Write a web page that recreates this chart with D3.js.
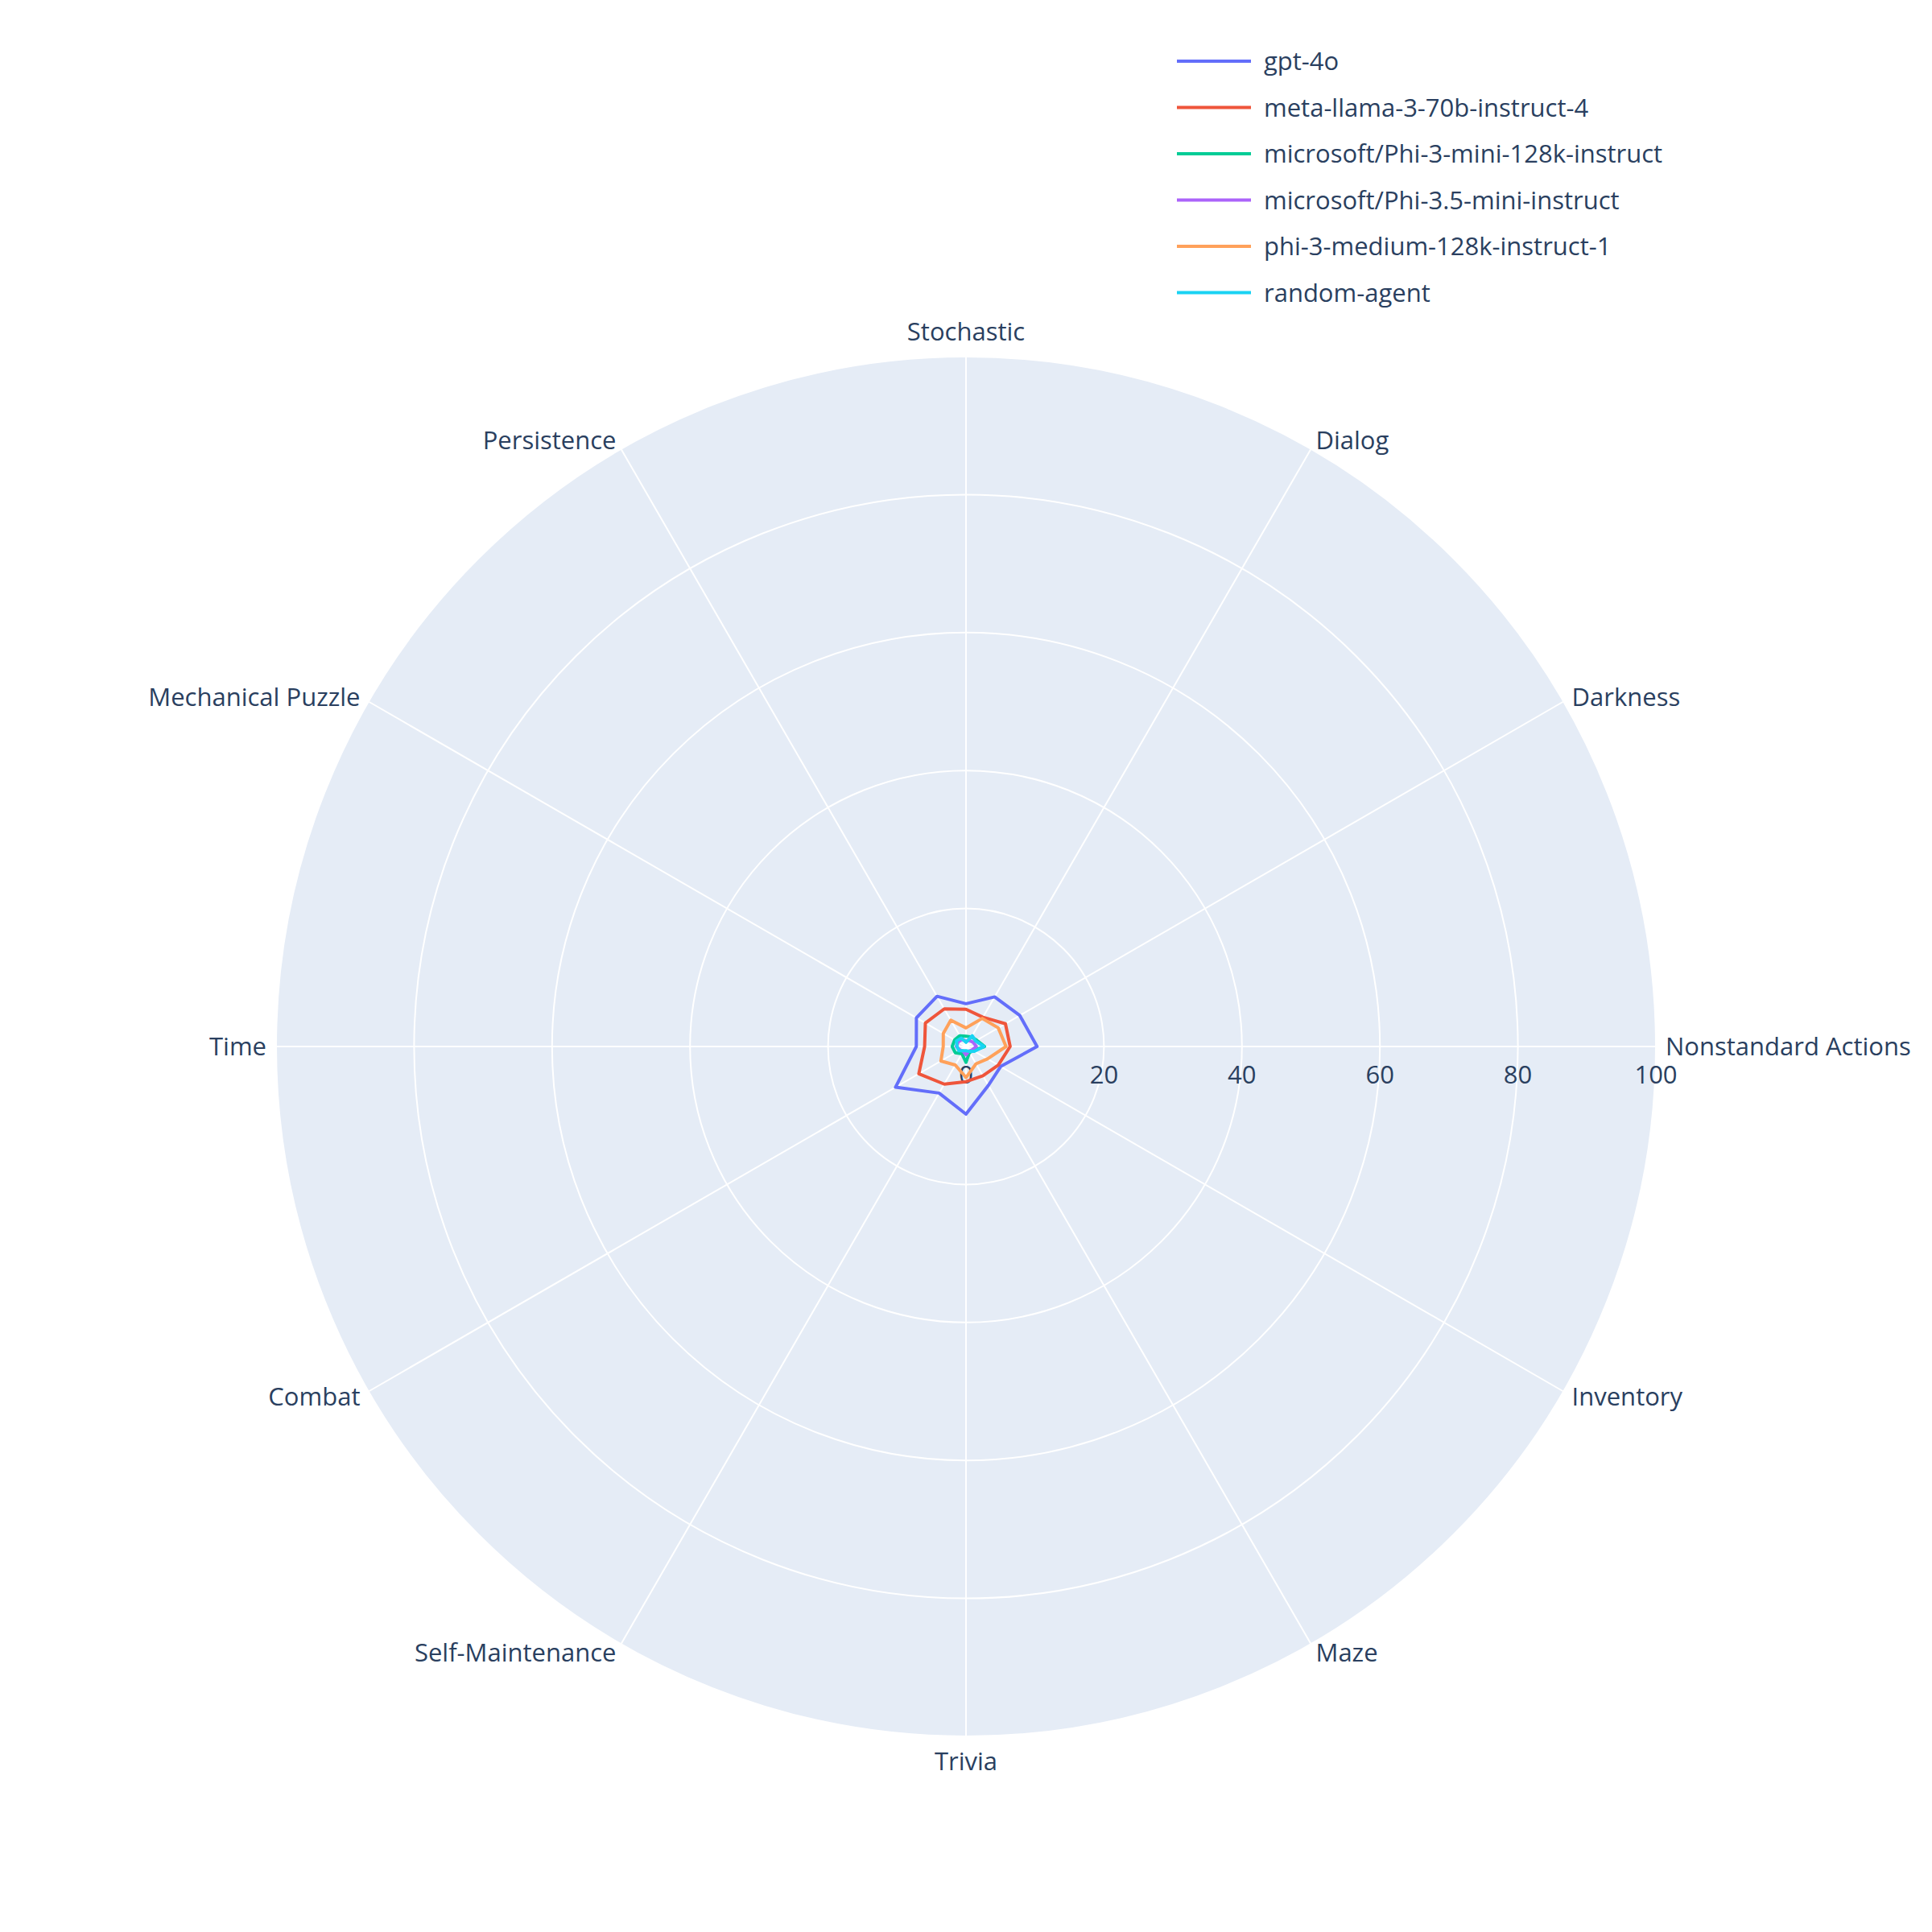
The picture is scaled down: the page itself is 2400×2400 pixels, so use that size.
<!DOCTYPE html><html><head><meta charset="utf-8"><script src="https://cdn.jsdelivr.net/npm/d3@7"></script>
<style>body{margin:0;background:#fff}text{font-family:"Open Sans",sans-serif;fill:#2a3f5f}</style></head><body>
<svg id="c" width="2400" height="2400"></svg>
<script>
const categories=["Nonstandard Actions","Darkness","Dialog","Stochastic","Persistence","Mechanical Puzzle","Time","Combat","Self-Maintenance","Trivia","Maze","Inventory"];
const seriesNames=["gpt-4o","meta-llama-3-70b-instruct-4","microsoft/Phi-3-mini-128k-instruct","microsoft/Phi-3.5-mini-instruct","phi-3-medium-128k-instruct-1","random-agent"];
const colors=["#636efa","#EF553B","#00cc96","#ab63fa","#FFA15A","#19d3f3"];
const gpt4o=[10.3,9.0,8.3,6.2,8.4,8.3,7.2,11.8,7.8,9.8,6.5,5.8];
const llama=[6.4,6.6,4.9,5.4,6.3,6.8,6.0,7.9,6.3,5.1,4.9,5.4];
const phi3mini=[2.7,1.8,1.6,1.5,1.8,1.9,2.0,1.8,1.2,2.3,1.0,1.2];
const phi35mini=[1.5,1.2,1.0,0.8,1.2,1.3,1.4,1.0,0.8,1.2,0.8,1.0];
const phi3medium=[5.8,5.4,4.7,2.7,4.4,3.8,3.3,4.2,3.1,4.5,2.9,3.6];
const randomAgent=[2.6,1.6,1.8,0.6,1.4,1.6,1.3,1.2,0.7,0.6,0.8,1.4];
const data=[gpt4o,llama,phi3mini,phi35mini,phi3medium,randomAgent];
const radialTicks=[0,20,40,60,80,100];
const cx=1200,cy=1300,R=857;
const svg=d3.select("#c");
const r=d3.scaleLinear().domain([0,100]).range([0,R]);
const ang=i=>-i*2*Math.PI/categories.length;
const g=svg.append("g").attr("transform",`translate(${cx},${cy})`);
g.append("circle").attr("r",R).attr("fill","#e5ecf6");
radialTicks.slice(1).forEach(t=>g.append("circle").attr("r",r(t)).attr("fill","none").attr("stroke","#fff").attr("stroke-width",2));
categories.forEach((c,i)=>{const a=ang(i);
 g.append("line").attr("x2",R*Math.cos(a)).attr("y2",R*Math.sin(a)).attr("stroke","#fff").attr("stroke-width",2);
 const lx=(R+12)*Math.cos(a),ly=(R+12)*Math.sin(a);
 const ca=Math.cos(a),sa=Math.sin(a);
 g.append("text").attr("x",lx).attr("y",ly+(sa<-0.9?-8:sa>0.9?30:11)).attr("font-size",31)
  .attr("text-anchor",Math.abs(ca)<0.1?"middle":ca>0?"start":"end").text(c);});
radialTicks.forEach(t=>g.append("text").attr("x",r(t)).attr("y",46).attr("text-anchor","middle").attr("font-size",31).text(t));
const line=d3.lineRadial().angle((d,i)=>Math.PI/2-i*2*Math.PI/categories.length).radius(d=>r(d)).curve(d3.curveLinearClosed);
data.forEach((s,k)=>g.append("path").attr("d",line(s)).attr("fill","none").attr("stroke",colors[k]).attr("stroke-width",4).attr("stroke-linejoin","round"));
const lg=svg.append("g").attr("transform","translate(1462,76)");
seriesNames.forEach((n,k)=>{const y=k*57.5;
 lg.append("line").attr("x1",0).attr("x2",92).attr("y1",y).attr("y2",y).attr("stroke",colors[k]).attr("stroke-width",4);
 lg.append("text").attr("x",108).attr("y",y+11).attr("font-size",31).text(n);});
</script></body></html>
